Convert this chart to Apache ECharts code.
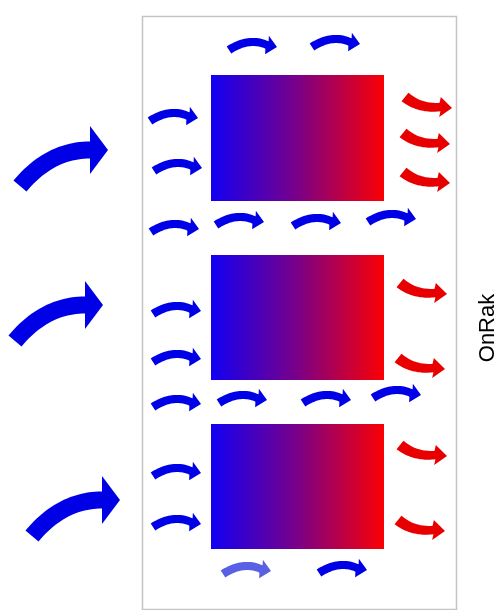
<!DOCTYPE html>
<html>
<head>
<meta charset="utf-8">
<script src="https://cdn.jsdelivr.net/npm/echarts@6/dist/echarts.min.js"></script>
<style>html,body{margin:0;padding:0;background:#fff}#c{width:499px;height:610px}</style>
</head>
<body>
<div id="c"></div>
<script>
// Diagram values (in diagram units, mapped through hidden value axes)
const rackFrame = [[142, 16, 456, 609]];
const servers = [[211, 75, 384, 201], [211, 255, 384, 380], [211, 424, 384, 549]];
const intakeArrows = [[108, 150], [103, 305], [120, 500]];
const coolArrows = [
  [174, 117], [178, 167], [175, 228], [177, 310], [177, 358], [177, 403], [177, 472], [177, 523],
  [253, 46], [336, 43],
  [240, 221], [317, 222], [392, 218],
  [243, 399], [327, 399], [397, 394],
  [343, 569]
];
const fadedArrows = [[247, 570]];
const hotArrows = [[428, 104], [426, 140], [426, 179], [423, 290], [421, 365], [423, 452], [421, 527]];
const rackLabel = 'OnRak';

const chart = echarts.init(document.getElementById('c'), null, {renderer: 'canvas'});

const shapes = {
  small: {tail: [-24, 4], ctrl: [-4, -9], end: [14, -1], tip: [24, 1], w0: 4.2, w1: 4, head: 9.5},
  hot: {tail: [-23, -7], ctrl: [-8, 5], end: [12, 3], tip: [24, 4], w0: 5.5, w1: 4.2, head: 10},
  big: {tail: [-88, 36], ctrl: [-58, 0], end: [-18, 0], tip: [0, 0], w0: 8.5, w1: 8.5, head: 24}
};

function arrowPolygon(api, cx, cy, g) {
  const N = 24, left = [], right = [];
  for (let i = 0; i <= N; i++) {
    const t = i / N, u = 1 - t;
    const x = u * u * g.tail[0] + 2 * u * t * g.ctrl[0] + t * t * g.end[0];
    const y = u * u * g.tail[1] + 2 * u * t * g.ctrl[1] + t * t * g.end[1];
    let dx = 2 * u * (g.ctrl[0] - g.tail[0]) + 2 * t * (g.end[0] - g.ctrl[0]);
    let dy = 2 * u * (g.ctrl[1] - g.tail[1]) + 2 * t * (g.end[1] - g.ctrl[1]);
    const l = Math.hypot(dx, dy) || 1; dx /= l; dy /= l;
    const w = g.w0 + (g.w1 - g.w0) * t;
    left.push([x - dy * w, y + dx * w]);
    right.push([x + dy * w, y - dx * w]);
  }
  let hx = g.tip[0] - g.end[0], hy = g.tip[1] - g.end[1];
  const hl = Math.hypot(hx, hy) || 1; hx /= hl; hy /= hl;
  const wingL = [g.end[0] - hy * g.head, g.end[1] + hx * g.head];
  const wingR = [g.end[0] + hy * g.head, g.end[1] - hx * g.head];
  const pts = left.concat([wingL, g.tip, wingR], right.reverse());
  return pts.map(p => api.coord([cx + p[0], cy + p[1]]));
}

function arrowSeries(name, data, shape, color, z) {
  return {
    type: 'custom', name: name, data: data, z: z, silent: true,
    renderItem: function (params, api) {
      return {
        type: 'polygon',
        shape: {points: arrowPolygon(api, api.value(0), api.value(1), shapes[shape])},
        style: {fill: color}
      };
    }
  };
}

const option = {
  animation: false,
  backgroundColor: '#ffffff',
  grid: {left: 0, right: 0, top: 0, bottom: 0},
  xAxis: {type: 'value', min: 0, max: 499, show: false},
  yAxis: {type: 'value', min: 0, max: 610, inverse: true, show: false},
  graphic: [{
    type: 'text', x: 488, y: 328, rotation: Math.PI / 2,
    style: {text: rackLabel, fill: '#000', font: '22px "Liberation Sans", Arial, sans-serif',
            align: 'center', verticalAlign: 'middle'}
  }],
  series: [
    {
      type: 'custom', name: 'rack', data: rackFrame, z: 1, silent: true,
      renderItem: function (params, api) {
        const a = api.coord([api.value(0), api.value(1)]);
        const b = api.coord([api.value(2), api.value(3)]);
        return {type: 'rect', shape: {x: a[0] + 0.5, y: a[1] + 0.5, width: b[0] - a[0], height: b[1] - a[1]},
                style: {fill: 'none', stroke: '#c4c4c4', lineWidth: 1.5}};
      }
    },
    {
      type: 'custom', name: 'servers', data: servers, z: 2, silent: true,
      renderItem: function (params, api) {
        const a = api.coord([api.value(0), api.value(1)]);
        const b = api.coord([api.value(2), api.value(3)]);
        return {type: 'rect', shape: {x: a[0], y: a[1], width: b[0] - a[0], height: b[1] - a[1]},
                style: {fill: new echarts.graphic.LinearGradient(0, 0, 1, 0, [
                  {offset: 0, color: '#1200f2'}, {offset: 0.5, color: '#7a0088'}, {offset: 1, color: '#fa0004'}])}};
      }
    },
    arrowSeries('intake', intakeArrows, 'big', '#0000e6', 3),
    arrowSeries('cool', coolArrows, 'small', '#0000e6', 3),
    arrowSeries('faded', fadedArrows, 'small', '#5a60e4', 3),
    arrowSeries('hot', hotArrows, 'hot', '#e80000', 3)
  ]
};
chart.setOption(option);
</script>
</body>
</html>
